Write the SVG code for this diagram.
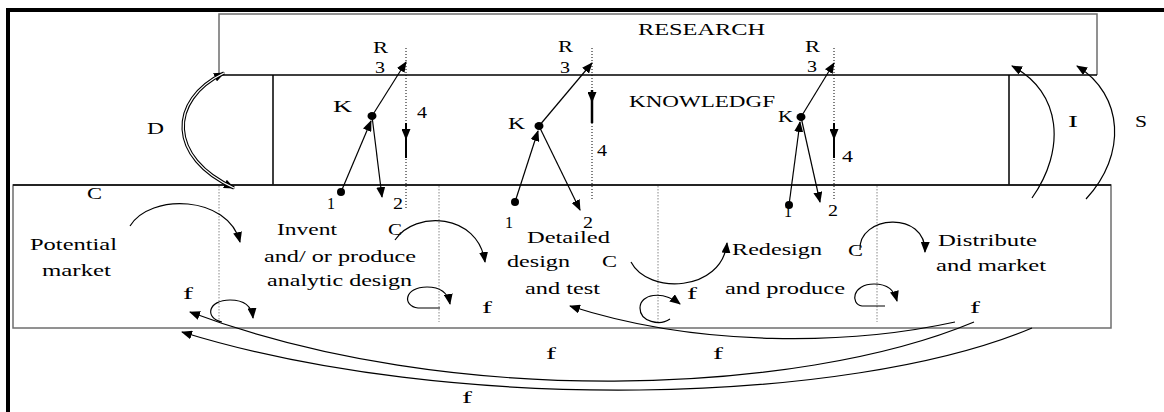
<svg xmlns="http://www.w3.org/2000/svg" width="1164" height="412" viewBox="0 0 1164 412">
<style>
text{font-family:"Liberation Serif","Times New Roman",serif;fill:#000;}
.t16{font-size:16px;}
.t17{font-size:17px;}
.ln{fill:none;stroke:#000;stroke-width:1.2;}
.box{fill:none;stroke:#6e6e6e;stroke-width:1.5;}
.blk{fill:none;stroke:#000;stroke-width:1.5;}
.dot{fill:none;stroke:#888;stroke-width:1;stroke-dasharray:1.5 1.5;}
.kdot{fill:none;stroke:#000;stroke-width:1;stroke-dasharray:1 2;}
.arr{marker-end:url(#ah);}
</style>
<defs>
<marker id="ah" markerUnits="userSpaceOnUse" markerWidth="11" markerHeight="9" refX="10" refY="4.5" orient="auto"><path d="M0,0 L11,4.5 L0,9 z" fill="#000"/></marker>
<marker id="ahs" markerUnits="userSpaceOnUse" markerWidth="11" markerHeight="9" refX="1" refY="4.5" orient="auto"><path d="M11,0 L0,4.5 L11,9 z" fill="#000"/></marker>
<marker id="ahm" markerUnits="userSpaceOnUse" markerWidth="11" markerHeight="9" refX="11" refY="4.5" orient="auto"><path d="M0,0 L11,4.5 L0,9 z" fill="#000"/></marker>
</defs>
<rect width="1164" height="412" fill="#fff"/>
<g id="frame"><path d="M8,412 V10 H1164" fill="none" stroke="#000" stroke-width="4"/></g>

<g id="research">
<path class="box" d="M219,75 V14 H1097 V75"/>
<text class="t16" x="638" y="35" textLength="127" lengthAdjust="spacingAndGlyphs">RESEARCH</text>
</g>
<g id="knowledge">
<path class="blk" d="M219,75 H1097 M273,75 V185 M1009,75 V185"/>
<text class="t16" x="629" y="107" textLength="146" lengthAdjust="spacingAndGlyphs">KNOWLEDGF</text>
</g>
<g id="process">
<rect class="box" x="13" y="185" width="1098" height="143"/>
<path class="blk" d="M13,185 H1111"/>
<path class="dot" d="M219,186 V322 M439,186 V322 M658,186 V322 M877,186 V322"/>
</g>

<g id="stage-potential">
<text class="t17" x="30" y="250" textLength="87" lengthAdjust="spacingAndGlyphs">Potential</text>
<text class="t17" x="42" y="276" textLength="69" lengthAdjust="spacingAndGlyphs">market</text>
</g>
<g id="stage-invent">
<text class="t17" x="277" y="235" textLength="60" lengthAdjust="spacingAndGlyphs">Invent</text>
<text class="t17" x="264" y="262" textLength="152" lengthAdjust="spacingAndGlyphs">and/ or produce</text>
<text class="t17" x="267" y="286" textLength="145" lengthAdjust="spacingAndGlyphs">analytic design</text>
</g>
<g id="stage-detailed">
<text class="t17" x="527" y="243" textLength="83" lengthAdjust="spacingAndGlyphs">Detailed</text>
<text class="t17" x="507" y="267" textLength="63" lengthAdjust="spacingAndGlyphs">design</text>
<text class="t17" x="525" y="294" textLength="75" lengthAdjust="spacingAndGlyphs">and test</text>
</g>
<g id="stage-redesign">
<text class="t17" x="732" y="255" textLength="90" lengthAdjust="spacingAndGlyphs">Redesign</text>
<text class="t17" x="725" y="294" textLength="120" lengthAdjust="spacingAndGlyphs">and produce</text>
</g>
<g id="stage-distribute">
<text class="t17" x="938" y="246" textLength="99" lengthAdjust="spacingAndGlyphs">Distribute</text>
<text class="t17" x="936" y="271" textLength="110" lengthAdjust="spacingAndGlyphs">and market</text>
</g>

<g id="cluster-1">
<path class="kdot" d="M406,48 V210"/>
<text class="t16" x="373" y="53" textLength="15" lengthAdjust="spacingAndGlyphs">R</text>
<text class="t16" x="375" y="73" textLength="10" lengthAdjust="spacingAndGlyphs">3</text>
<text class="t16" x="333" y="112" textLength="19" lengthAdjust="spacingAndGlyphs">K</text>
<text class="t16" x="417" y="118" textLength="10" lengthAdjust="spacingAndGlyphs">4</text>
<text class="t16" x="327" y="209" textLength="8" lengthAdjust="spacingAndGlyphs">1</text>
<text class="t16" x="393" y="209" textLength="10" lengthAdjust="spacingAndGlyphs">2</text>
<circle cx="341" cy="192" r="4"/>
<ellipse cx="372" cy="116" rx="4.5" ry="4"/>
</g>
<g id="cluster-2">
<path class="kdot" d="M592,48 V200"/>
<text class="t16" x="558" y="52" textLength="15" lengthAdjust="spacingAndGlyphs">R</text>
<text class="t16" x="560" y="73" textLength="10" lengthAdjust="spacingAndGlyphs">3</text>
<text class="t16" x="508" y="129" textLength="17" lengthAdjust="spacingAndGlyphs">K</text>
<text class="t16" x="597" y="156" textLength="10" lengthAdjust="spacingAndGlyphs">4</text>
<text class="t16" x="505" y="228" textLength="8" lengthAdjust="spacingAndGlyphs">1</text>
<text class="t16" x="583" y="228" textLength="10" lengthAdjust="spacingAndGlyphs">2</text>
<circle cx="515" cy="202" r="4"/>
<ellipse cx="539" cy="126" rx="4.5" ry="4"/>
</g>
<g id="cluster-3">
<path class="kdot" d="M834,48 V200"/>
<text class="t16" x="805" y="52" textLength="15" lengthAdjust="spacingAndGlyphs">R</text>
<text class="t16" x="807" y="72" textLength="10" lengthAdjust="spacingAndGlyphs">3</text>
<text class="t16" x="778" y="122" textLength="15" lengthAdjust="spacingAndGlyphs">K</text>
<text class="t16" x="842" y="162" textLength="11" lengthAdjust="spacingAndGlyphs">4</text>
<text class="t16" x="784" y="217" textLength="8" lengthAdjust="spacingAndGlyphs">1</text>
<text class="t16" x="828" y="216" textLength="10" lengthAdjust="spacingAndGlyphs">2</text>
<circle cx="789" cy="205" r="4"/>
<ellipse cx="801" cy="117" rx="4.5" ry="4"/>
</g>

<g id="labels">
<text class="t16" x="147" y="134" textLength="17" lengthAdjust="spacingAndGlyphs">D</text>
<text class="t16" x="1068" y="127" textLength="10" lengthAdjust="spacingAndGlyphs">I</text>
<text class="t16" x="1135" y="127" textLength="12" lengthAdjust="spacingAndGlyphs">S</text>
<text class="t16" x="87" y="199" textLength="15" lengthAdjust="spacingAndGlyphs">C</text>
<text class="t17" x="388" y="235" textLength="14" lengthAdjust="spacingAndGlyphs">C</text>
<text class="t17" x="602" y="267" textLength="15" lengthAdjust="spacingAndGlyphs">C</text>
<text class="t17" x="848" y="256" textLength="15" lengthAdjust="spacingAndGlyphs">C</text>
<text class="t17" x="183" y="299" textLength="10" lengthAdjust="spacingAndGlyphs">f</text>
<text class="t17" x="482" y="313" textLength="10" lengthAdjust="spacingAndGlyphs">f</text>
<text class="t17" x="687" y="299" textLength="10" lengthAdjust="spacingAndGlyphs">f</text>
<text class="t17" x="970" y="313" textLength="10" lengthAdjust="spacingAndGlyphs">f</text>
<text class="t17" x="546" y="359" textLength="10" lengthAdjust="spacingAndGlyphs">f</text>
<text class="t17" x="713" y="359" textLength="10" lengthAdjust="spacingAndGlyphs">f</text>
<text class="t17" x="462" y="403" textLength="10" lengthAdjust="spacingAndGlyphs">f</text>
</g>

<g id="connectors">
<!-- knowledge links -->
<path class="ln arr" d="M341,192 L371,121"/>
<path class="ln arr" d="M372,116 L406,62"/>
<path class="ln arr" d="M372,116 L382,197"/>
<path class="ln arr" d="M515,202 L538,131"/>
<path class="ln arr" d="M539,126 L592,63"/>
<path class="ln arr" d="M539,126 L580,210"/>
<path class="ln arr" d="M789,205 L800,122"/>
<path class="ln arr" d="M801,117 L834,63"/>
<path class="ln arr" d="M801,117 L820,202"/>
<path d="M406,123 L406,140 L406,158" fill="none" stroke="#000" stroke-width="2" marker-mid="url(#ahm)"/>
<path d="M592,90 L592,103 L592,123" fill="none" stroke="#000" stroke-width="2.5" marker-mid="url(#ahm)"/>
<path d="M834,123 L834,140 L834,158" fill="none" stroke="#000" stroke-width="2" marker-mid="url(#ahm)"/>
<!-- D double arc -->
<path d="M224,73 C168,100 168,158 234,188" fill="none" stroke="#000" stroke-width="3.5" marker-start="url(#ahs)" marker-end="url(#ah)"/>
<path d="M224,73 C168,100 168,158 234,188" fill="none" stroke="#fff" stroke-width="1.3"/>
<!-- I and S -->
<path class="ln arr" d="M1032,198 C1066,150 1062,92 1012,66"/>
<path class="ln arr" d="M1086,199 C1127,155 1124,95 1077,66"/>
<!-- C arcs -->
<path class="ln arr" d="M130,226 C150,193 228,195 240,242"/>
<path class="ln arr" d="M395,240 C415,210 478,213 485,262"/>
<path class="ln arr" d="M631,262 C648,295 722,292 727,243"/>
<path class="ln arr" d="M860,250 C858,215 926,210 925,252"/>
<!-- loops -->
<path class="ln arr" d="M222,322 C204,318 208,300 230,300 C246,300 252,308 253,318"/>
<path class="ln arr" d="M440,308 L418,308 C402,306 404,287 427,287 C441,287 448,293 450,304"/>
<path class="ln arr" d="M670,319 C660,326 640,322 640,308 C640,294 662,290 680,304"/>
<path class="ln arr" d="M885,306 L862,306 C850,304 852,284 874,284 C888,284 894,290 897,301"/>
<!-- f feedback arrows -->
<path class="ln arr" d="M955,322 C850,345 700,348 570,306"/>
<path class="ln arr" d="M974,322 C800,395 450,410 190,312"/>
<path class="ln arr" d="M1032,328 C850,405 450,415 182,332"/>
</g>
</svg>
